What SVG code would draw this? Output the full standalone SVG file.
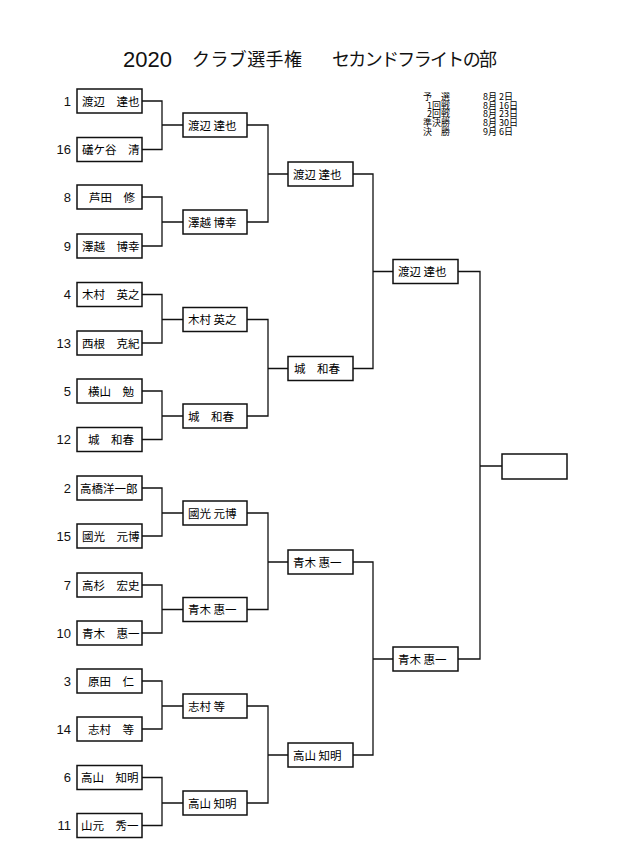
<svg xmlns="http://www.w3.org/2000/svg" width="630" height="861" viewBox="0 0 630 861">
<style>
.bx{fill:#fff;stroke:#111;stroke-width:1.5}
.nm{font-family:"Noto Sans CJK JP","Liberation Sans",sans-serif;font-size:11.5px;fill:#000}
.sd{font-family:"Liberation Sans",Arial,sans-serif;font-size:13px;fill:#111;text-anchor:end}
.cn{fill:none;stroke:#111;stroke-width:1.3}
.tj{font-family:"Noto Sans CJK JP",sans-serif;font-size:18px;fill:#111}
.sc{font-family:"Noto Sans CJK JP",sans-serif;font-size:9px;fill:#000}
</style>
<rect width="630" height="861" fill="#fff"/>
<g id="title">
<text x="123" y="67" font-family="Liberation Sans, Arial, sans-serif" font-size="22" fill="#111">2020</text>
<text class="tj" x="192" y="66" textLength="110">クラブ選手権</text>
<text class="tj" x="332" y="66" textLength="165">セカンドフライトの部</text>
</g>
<g id="schedule">
<text class="sc" x="450" y="100" text-anchor="end">予　選</text>
<text class="sc" x="450" y="108.7" text-anchor="end">1回戦</text>
<text class="sc" x="450" y="117.4" text-anchor="end">2回戦</text>
<text class="sc" x="450" y="126.1" text-anchor="end">準決勝</text>
<text class="sc" x="450" y="134.8" text-anchor="end">決　勝</text>
<text class="sc" x="483" y="100">8月 2日</text>
<text class="sc" x="483" y="108.7">8月 16日</text>
<text class="sc" x="483" y="117.4">8月 23日</text>
<text class="sc" x="483" y="126.1">8月 30日</text>
<text class="sc" x="483" y="134.8">9月 6日</text>
</g>
<g id="connectors" class="cn">
<path d="M142 101H162V149.5H142M162 125H183"/>
<path d="M142 197H162V246H142M162 222H183"/>
<path d="M142 294.5H162V343H142M162 319.5H183"/>
<path d="M142 391H162V439.5H142M162 416H183"/>
<path d="M142 488H162V536H142M162 513H183"/>
<path d="M142 585H162V633H142M162 609.5H183"/>
<path d="M142 681H162V729H142M162 706H183"/>
<path d="M142 777.5H162V825.5H142M162 803H183"/>
<path d="M247 125H268V222H247M268 174H288"/>
<path d="M247 319.5H268V416H247M268 368.5H288"/>
<path d="M247 513H268V609.5H247M268 562H288"/>
<path d="M247 706H268V803H247M268 755H288"/>
<path d="M353 174H373V368.5H353M373 271.5H393"/>
<path d="M353 562H373V755H353M373 659H393"/>
<path d="M458 271.5H480V659H458M480 466H502"/>
</g>
<g id="r1-1"><text class="sd" x="71" y="105.7">1</text><rect class="bx" x="77" y="89" width="65" height="24"/><text class="nm" x="82" y="105.5">渡辺　達也</text></g>
<g id="r1-16"><text class="sd" x="71" y="154.2">16</text><rect class="bx" x="77" y="137.5" width="65" height="24"/><text class="nm" x="82" y="154">礒ケ谷　清</text></g>
<g id="r1-8"><text class="sd" x="71" y="201.7">8</text><rect class="bx" x="77" y="185" width="65" height="24"/><text class="nm" x="89" y="201.5">芦田　修</text></g>
<g id="r1-9"><text class="sd" x="71" y="250.7">9</text><rect class="bx" x="77" y="234" width="65" height="24"/><text class="nm" x="82" y="250.5">澤越　博幸</text></g>
<g id="r1-4"><text class="sd" x="71" y="299.2">4</text><rect class="bx" x="77" y="282.5" width="65" height="24"/><text class="nm" x="82" y="299">木村　英之</text></g>
<g id="r1-13"><text class="sd" x="71" y="347.7">13</text><rect class="bx" x="77" y="331" width="65" height="24"/><text class="nm" x="82" y="347.5">西根　克紀</text></g>
<g id="r1-5"><text class="sd" x="71" y="395.7">5</text><rect class="bx" x="77" y="379" width="65" height="24"/><text class="nm" x="88" y="395.5">横山　勉</text></g>
<g id="r1-12"><text class="sd" x="71" y="444.2">12</text><rect class="bx" x="77" y="427.5" width="65" height="24"/><text class="nm" x="88" y="444">城　和春</text></g>
<g id="r1-2"><text class="sd" x="71" y="492.7">2</text><rect class="bx" x="77" y="476" width="65" height="24"/><text class="nm" x="80" y="492.5">高橋洋一郎</text></g>
<g id="r1-15"><text class="sd" x="71" y="540.7">15</text><rect class="bx" x="77" y="524" width="65" height="24"/><text class="nm" x="82" y="540.5">國光　元博</text></g>
<g id="r1-7"><text class="sd" x="71" y="589.7">7</text><rect class="bx" x="77" y="573" width="65" height="24"/><text class="nm" x="82" y="589.5">高杉　宏史</text></g>
<g id="r1-10"><text class="sd" x="71" y="637.7">10</text><rect class="bx" x="77" y="621" width="65" height="24"/><text class="nm" x="82" y="637.5">青木　惠一</text></g>
<g id="r1-3"><text class="sd" x="71" y="685.7">3</text><rect class="bx" x="77" y="669" width="65" height="24"/><text class="nm" x="88" y="685.5">原田　仁</text></g>
<g id="r1-14"><text class="sd" x="71" y="733.7">14</text><rect class="bx" x="77" y="717" width="65" height="24"/><text class="nm" x="88" y="733.5">志村　等</text></g>
<g id="r1-6"><text class="sd" x="71" y="782.2">6</text><rect class="bx" x="77" y="765.5" width="65" height="24"/><text class="nm" x="81" y="782">高山　知明</text></g>
<g id="r1-11"><text class="sd" x="71" y="830.2">11</text><rect class="bx" x="77" y="813.5" width="65" height="24"/><text class="nm" x="81" y="830">山元　秀一</text></g>
<g id="r2-a"><rect class="bx" x="183" y="113" width="64" height="24"/><text class="nm" x="188" y="129.5">渡辺 達也</text></g>
<g id="r2-b"><rect class="bx" x="183" y="210" width="64" height="24"/><text class="nm" x="188" y="226.5">澤越 博幸</text></g>
<g id="r2-c"><rect class="bx" x="183" y="307.5" width="64" height="24"/><text class="nm" x="188" y="324">木村 英之</text></g>
<g id="r2-d"><rect class="bx" x="183" y="404" width="64" height="24"/><text class="nm" x="188" y="420.5">城　和春</text></g>
<g id="r2-e"><rect class="bx" x="183" y="501" width="64" height="24"/><text class="nm" x="188" y="517.5">國光 元博</text></g>
<g id="r2-f"><rect class="bx" x="183" y="597.5" width="64" height="24"/><text class="nm" x="188" y="614">青木 惠一</text></g>
<g id="r2-g"><rect class="bx" x="183" y="694" width="64" height="24"/><text class="nm" x="188" y="710.5">志村 等</text></g>
<g id="r2-h"><rect class="bx" x="183" y="791" width="64" height="24"/><text class="nm" x="188" y="807.5">高山 知明</text></g>
<g id="r3-a"><rect class="bx" x="288" y="162" width="65" height="24"/><text class="nm" x="293" y="178.5">渡辺 達也</text></g>
<g id="r3-b"><rect class="bx" x="288" y="356.5" width="65" height="24"/><text class="nm" x="294" y="373">城　和春</text></g>
<g id="r3-c"><rect class="bx" x="288" y="550" width="65" height="24"/><text class="nm" x="293" y="566.5">青木 惠一</text></g>
<g id="r3-d"><rect class="bx" x="288" y="743" width="65" height="24"/><text class="nm" x="293" y="759.5">高山 知明</text></g>
<g id="r4-a"><rect class="bx" x="393" y="259.5" width="65" height="24"/><text class="nm" x="398" y="276">渡辺 達也</text></g>
<g id="r4-b"><rect class="bx" x="393" y="647" width="65" height="24"/><text class="nm" x="398" y="663.5">青木 惠一</text></g>
<g id="final"><rect class="bx" x="502" y="454" width="65" height="25"/></g>
</svg>
